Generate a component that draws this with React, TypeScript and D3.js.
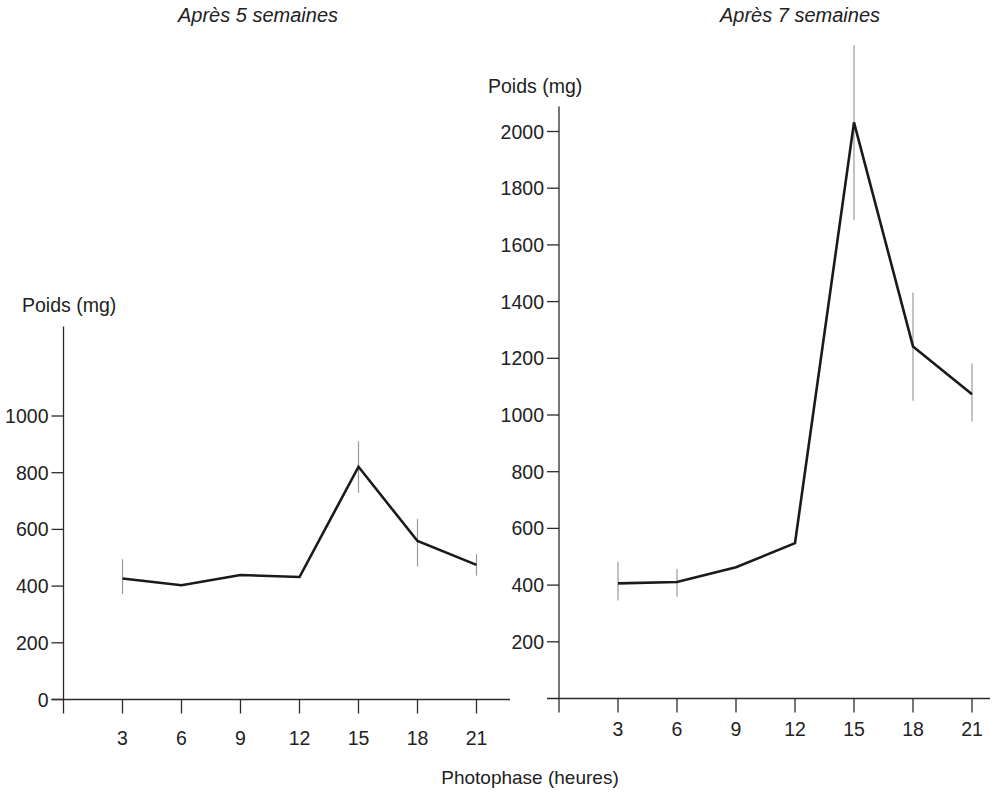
import * as d3 from "d3";

const hours = [3, 6, 9, 12, 15, 18, 21];

// Après 5 semaines
const weight5 = [427, 403, 439, 432, 821, 559, 475];
const errLow5 = [372, null, null, null, 729, 469, 437];
const errHigh5 = [495, null, null, null, 911, 637, 513];
const yTicks5 = [0, 200, 400, 600, 800, 1000];

// Après 7 semaines
const weight7 = [406, 411, 463, 548, 2032, 1242, 1073];
const errLow7 = [346, 359, null, null, 1687, 1050, 977];
const errHigh7 = [482, 457, null, null, 2304, 1432, 1182];
const yTicks7 = [200, 400, 600, 800, 1000, 1200, 1400, 1600, 1800, 2000];

const FONT = "'Liberation Sans', Arial, Helvetica, sans-serif";
const AXIS = "#2b2b2b";

type PanelProps = {
  title: string;
  titleX: number;
  originX: number;
  originY: number;
  yMax: number;
  axisEnd: number;
  values: number[];
  low: (number | null)[];
  high: (number | null)[];
  yTicks: number[];
  labelX: number;
  xLabelDy: number;
};

function Panel(p: PanelProps) {
  const x = d3.scaleLinear().domain([0, 21]).range([p.originX, p.originX + 413]);
  const y = d3.scaleLinear().domain([0, 1000]).range([p.originY, p.originY - 283.5]);
  const top = y(p.yMax);
  const pts = hours.map((h, i) => [h, p.values[i]] as [number, number]);
  const line = d3
    .line<[number, number]>()
    .x((d) => x(d[0]))
    .y((d) => y(d[1]));

  return (
    <g>
      <text x={p.titleX} y={22} textAnchor="middle" fontStyle="italic" fontSize={20} fill="#222">
        {p.title}
      </text>
      <text x={p.labelX} y={top - 14} fontSize={19.5} fill="#222">
        Poids (mg)
      </text>
      {/* axes */}
      <line x1={p.originX} x2={p.originX} y1={top} y2={p.originY + 14} stroke={AXIS} strokeWidth={1.3} />
      <line x1={p.originX - 12} x2={p.axisEnd} y1={p.originY} y2={p.originY} stroke={AXIS} strokeWidth={1.3} />
      {p.yTicks.map((t) => (
        <g key={t}>
          <line x1={p.originX - 12} x2={p.originX} y1={y(t)} y2={y(t)} stroke={AXIS} strokeWidth={1.3} />
          <text x={p.originX - 15} y={y(t)} dy="0.36em" textAnchor="end" fontSize={19.5} fill="#222">
            {t}
          </text>
        </g>
      ))}
      {hours.map((h) => (
        <g key={h}>
          <line x1={x(h)} x2={x(h)} y1={p.originY} y2={p.originY + 14} stroke={AXIS} strokeWidth={1.3} />
          <text x={x(h)} y={p.originY + p.xLabelDy} textAnchor="middle" fontSize={19.5} fill="#222">
            {h}
          </text>
        </g>
      ))}
      {/* error bars */}
      {hours.map((h, i) =>
        p.low[i] == null ? null : (
          <line
            key={"e" + h}
            x1={x(h)}
            x2={x(h)}
            y1={y(p.low[i] as number)}
            y2={y(p.high[i] as number)}
            stroke="#9a9a9a"
            strokeWidth={1.2}
          />
        )
      )}
      <path d={line(pts) ?? ""} fill="none" stroke="#1a1a1a" strokeWidth={2.6} strokeLinejoin="miter" />
    </g>
  );
}

export default function App() {
  return (
    <svg
      width={993}
      height={795}
      viewBox="0 0 993 795"
      style={{ position: "absolute", left: 0, top: 0, background: "#fff" }}
      fontFamily={FONT}
    >
      <rect width={993} height={795} fill="#fff" />
      <Panel
        title="Après 5 semaines"
        titleX={258}
        originX={63.5}
        originY={699.5}
        yMax={1316}
        axisEnd={510}
        values={weight5}
        low={errLow5}
        high={errHigh5}
        yTicks={yTicks5}
        labelX={22}
        xLabelDy={45}
      />
      <Panel
        title="Après 7 semaines"
        titleX={800}
        originX={559}
        originY={698.5}
        yMax={2088}
        axisEnd={990}
        values={weight7}
        low={errLow7}
        high={errHigh7}
        yTicks={yTicks7}
        labelX={488}
        xLabelDy={37}
      />
      <text x={530} y={784} textAnchor="middle" fontSize={19} fill="#222">
        Photophase (heures)
      </text>
    </svg>
  );
}
